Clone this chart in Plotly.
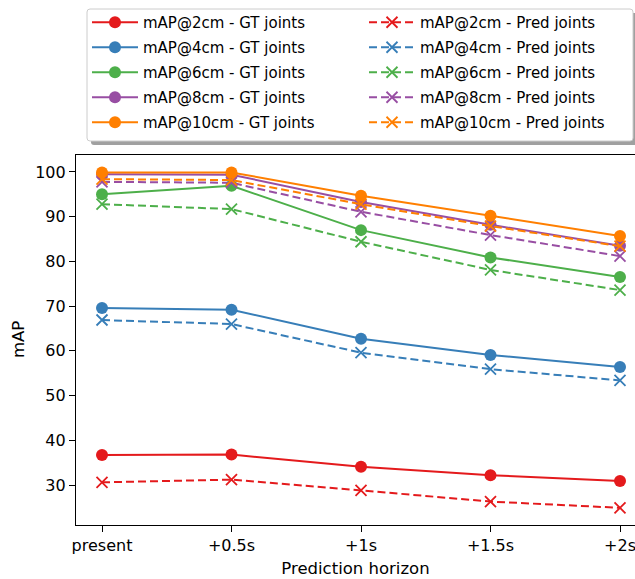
import plotly.graph_objects as go

horizons = ["present", "+0.5s", "+1s", "+1.5s", "+2s"]
thresholds = ["2cm", "4cm", "6cm", "8cm", "10cm"]
colors = ["#e41a1c", "#377eb8", "#4daf4a", "#984ea3", "#ff7f00"]

gt_2cm = [36.7, 36.8, 34.1, 32.2, 30.9]
gt_4cm = [69.6, 69.2, 62.7, 59.1, 56.4]
gt_6cm = [95.0, 96.9, 87.0, 80.9, 76.5]
gt_8cm = [99.5, 99.4, 93.3, 88.2, 83.5]
gt_10cm = [99.9, 99.9, 94.7, 90.2, 85.7]

pred_2cm = [30.6, 31.2, 28.8, 26.3, 24.9]
pred_4cm = [66.9, 66.0, 59.6, 55.9, 53.4]
pred_6cm = [92.8, 91.7, 84.4, 78.1, 73.6]
pred_8cm = [97.8, 97.6, 91.1, 85.9, 81.2]
pred_10cm = [98.4, 98.2, 92.8, 87.9, 83.4]

gt_all = [gt_2cm, gt_4cm, gt_6cm, gt_8cm, gt_10cm]
pred_all = [pred_2cm, pred_4cm, pred_6cm, pred_8cm, pred_10cm]

xi = list(range(len(horizons)))
FONT = "DejaVu Sans"

fig = go.Figure()
for i, th in enumerate(thresholds):
    fig.add_trace(go.Scatter(
        x=xi, y=gt_all[i], mode="lines+markers",
        name=f"mAP@{th} - GT joints", legend="legend", legendgroup=f"gt{i}",
        line=dict(color=colors[i], width=2),
        marker=dict(symbol="circle", size=12, color=colors[i]),
    ))
    fig.add_trace(go.Scatter(
        x=xi, y=pred_all[i], mode="lines+markers",
        name=f"mAP@{th} - Pred joints", legend="legend2", legendgroup=f"pr{i}",
        line=dict(color=colors[i], width=2, dash="8px,4px"),
        marker=dict(symbol="x-thin", size=11, color=colors[i],
                    line=dict(color=colors[i], width=1.8)),
    ))

W, H = 635, 579
ml, mt, mb, mr = 76, 155, 54, 0
pw, ph = W - ml - mr, H - mt - mb


def px_x(fx):
    return (fx - ml) / pw


def px_y(fy):
    return (H - mb - fy) / ph


def rounded(x0, y0, x1, y1, r):
    X0, X1 = px_x(x0), px_x(x1)
    Y0, Y1 = px_y(y0), px_y(y1)
    rx, ry = r / pw, r / ph
    return (f"M{X0+rx},{Y0} L{X1-rx},{Y0} Q{X1},{Y0} {X1},{Y0-ry} "
            f"L{X1},{Y1+ry} Q{X1},{Y1} {X1-rx},{Y1} L{X0+rx},{Y1} "
            f"Q{X0},{Y1} {X0},{Y1+ry} L{X0},{Y0-ry} Q{X0},{Y0} {X0+rx},{Y0} Z")


legend_common = dict(
    xref="container", yref="container", xanchor="left", yanchor="top",
    bgcolor="rgba(0,0,0,0)", borderwidth=0,
    font=dict(family=FONT, size=15, color="black"),
    tracegroupgap=2.5, itemwidth=46, orientation="v",
)

fig.update_layout(
    width=W, height=H,
    margin=dict(l=ml, r=mr, t=mt, b=mb, autoexpand=False),
    plot_bgcolor="white", paper_bgcolor="white",
    font=dict(family=FONT, size=15, color="black"),
    showlegend=True,
    legend=dict(x=87 / W, y=1 - 6 / H, **legend_common),
    legend2=dict(x=364 / W, y=1 - 6 / H, **legend_common),
    shapes=[
        dict(type="path", xref="paper", yref="paper", path=rounded(91, 13, 637, 145, 3),
             fillcolor="#a0a0a0", line=dict(width=0), layer="below"),
        dict(type="path", xref="paper", yref="paper", path=rounded(87, 9, 633, 141, 3),
             fillcolor="white", line=dict(color="#cccccc", width=1), layer="below"),
    ],
    annotations=[
        dict(text="mAP", xref="paper", yref="paper", x=px_x(18), y=px_y(340),
             xanchor="center", yanchor="middle", textangle=-90, showarrow=False,
             font=dict(size=16.5, family=FONT, color="black")),
    ],
    xaxis=dict(
        range=[-0.2008, 4.1158], automargin=True,
        tickmode="array", tickvals=xi, ticktext=horizons,
        showgrid=False, zeroline=False,
        showline=True, linecolor="black", linewidth=1.2, mirror=True,
        ticks="outside", ticklen=6, tickwidth=1.2, tickcolor="black",
        tickfont=dict(size=16, family=FONT), ticklabeloverflow="allow",
        title=dict(text="Prediction horizon", font=dict(size=16.5, family=FONT), standoff=8),
    ),
    yaxis=dict(
        range=[21.06, 103.8], automargin=True,
        tickvals=[30, 40, 50, 60, 70, 80, 90, 100],
        showgrid=False, zeroline=False,
        showline=True, linecolor="black", linewidth=1.2, mirror=False,
        ticks="outside", ticklen=6, tickwidth=1.2, tickcolor="black",
        tickfont=dict(size=16, family=FONT),
    ),
)

fig.write_html(
    "out.html",
    config={"displayModeBar": False},
    post_script="document.body.style.margin='0';document.body.style.overflow='hidden';",
)
